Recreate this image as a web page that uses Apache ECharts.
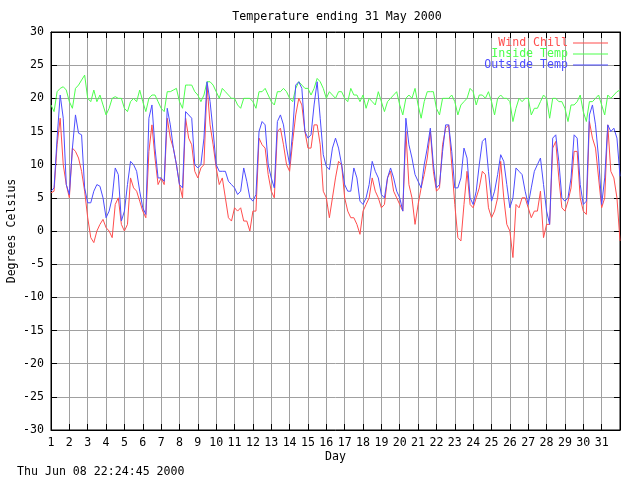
<!DOCTYPE html>
<html>
<head>
<meta charset="utf-8">
<script src="https://cdn.jsdelivr.net/npm/echarts@6/dist/echarts.min.js"></script>
<style>html,body{margin:0;padding:0;background:#fff;}#c{width:640px;height:480px;}</style>
</head>
<body>
<div id="c"></div>
<script>
var samplesPerDay = 6; // readings every 4 hours, starting 1 May 00:00
var dayLabels = ['1','2','3','4','5','6','7','8','9','10','11','12','13','14','15','16','17','18','19','20','21','22','23','24','25','26','27','28','29','30','31'];
var yTicks = [-30,-25,-20,-15,-10,-5,0,5,10,15,20,25,30];

var windChill = [
 5.75,6,13,17,10,7,5,12.5,12,11,9,6,2,-1,-1.75,0,1,1.75,0.5,0,-1,4,5,1,0,1,8,6.5,6,4.5,3,2,
 12,16,11,7,8,7,17,14,12.5,10,7,5,17,14,13,9,8,9.5,10,22,16,13,9.5,7,8,5,2,1.5,3.5,3,3.5,
 1.5,1.5,0,3,3,14,13,12.5,8.5,6,5,15,15.5,13,10,9,13.5,17.5,20,19,15,12.5,12.5,16,16,13,6,5,2,5,8,
 10.5,10,5,3,2,2,1,-0.5,3,4,5,8,6,5,3.5,4,8,9,6,5,4,3,15,7,5,1,4,6.5,8.5,11,15,
 9,6,6.5,13,15.5,16,10,4,-1,-1.5,4,9,4,3.5,5,6.5,9,8.5,3.5,2,3,5,10.5,5,1,0,-4,4,3.5,5,5,
 3.5,2,3,3,6,-1,1,1,12.5,13.5,8,3.5,3,4.5,6.5,12,12,5,3,2.5,16.5,14,12.5,8,3.5,5,16,9,8,5,-1.5
];
var insideTemp = [
 19,18,21,21.5,21.75,21.25,19.5,18.5,21.5,22,22.75,23.5,20,19.5,21.25,19.5,20.5,19,17.5,18.5,20,20.25,20,20,18.5,18,19.5,20,19.5,21.25,19.5,18,
 20,20.5,20.5,19.5,18.5,18,21,21,21.25,21.5,19.5,18.5,22,22,22,21,20.5,19.5,20.5,22.5,22.5,22,21,20,21.5,21,20.5,20,20,19,18.5,
 20,20,20,19.5,18.5,21,21,21.5,20.5,19.5,19,21,21,21.5,21,20,19.5,21.5,22.5,22,21.5,21.5,20.5,21.5,23,22.5,21.5,20,21,20.5,20,
 21,21,20,19.5,21.5,20.5,20.5,19.5,20.5,18.5,20,19.5,19,21,19.5,18,19.5,20,20.5,21,19,17.5,20,20.5,20,21.5,19,17,19.5,21,21,
 21,18.5,17.5,20,20,20,20.5,19.5,17.5,19,19.5,20,21.5,21,19,20.5,20.5,20,21,19.5,17.5,20,20.5,20,20,19.5,16.5,18.5,20,19.5,20,
 20,17.5,18.5,18.5,19.5,20.5,20,17,20,20,19.5,19.5,18.5,16.5,19,19,19.5,20.5,18,16.5,19.5,19.5,20,20.5,19,17.5,20.5,20,20.5,21,21.25
];
var outsideTemp = [
 6,6.5,14,20.5,17,7,5.5,12.5,17.5,14.75,14.5,6.5,4.25,4.25,6,7,6.75,5,2,3,5,9.5,8.5,1.5,3,7,10.5,10,9,6,3.5,2.5,
 17,19,12.5,8,8,7.5,18.5,16,12.5,10,7,6.5,18,17.5,17,10,9.5,10,14,22.5,19.5,15,10,9,9,9,7.5,7,6.5,5.5,6,
 9.5,7.5,5,4.5,5.5,15,16.5,16,10,8,6.5,16.5,17.5,16,12.5,10,15,22,22.5,21.5,15,14,14.5,19,22.5,17,11.5,9.75,9.25,12.5,14,
 12.5,10,7,6,6,9.5,8,4.5,4,5,7,10.5,9,8,5.5,5,8,9.5,8,6,5,3,17,13,11,8.5,7.5,6.5,10,12.5,15.5,
 10,6.5,7,12,16,16,12,6.5,6.5,8,12.5,11,5,4,6,10,13.5,14,9,4.5,6,8.5,11.5,10.5,7,3.5,5,9.5,9,8.5,6,
 4,6.5,9,10,11,7,3,1,14,14.5,10.5,5,4.5,5,8,14.5,14,7,4,4.5,17.5,19,16,11,4,8,16,15,15.5,14,8.25
];

function toPairs(arr){ return arr.map(function(v,i){ return [1 + i / samplesPerDay, v]; }); }

var FONT = 'DejaVu Sans Mono';
var FS = 11.6;
var RED = '#ff4d4d', GREEN = '#4dff4d', BLUE = '#4d4dff';
var chart = echarts.init(document.getElementById('c'), null, {renderer:'canvas'});

function legendFor(name, color, top){
  return {data:[{name:name, icon:'path://M0,0 L35,0 L35,1 L0,1 Z'}], right: 32, top: top, orient:'vertical', align:'right',
    itemWidth: 35, itemHeight: 10, itemGap: 0, padding: 0, symbolKeepAspect:true,
    itemStyle:{color:color, borderWidth:0},
    textStyle:{color: color, fontFamily: FONT, fontSize: FS}, selectedMode:false};
}

chart.setOption({
  backgroundColor:'#ffffff',
  animation:false,
  title:{text:'Temperature ending 31 May 2000', left: 332, top: 6, textAlign:'center',
    textStyle:{fontFamily:FONT, fontSize:FS, fontWeight:'normal', color:'#000'}},
  legend:[legendFor('Wind Chill', RED, 37), legendFor('Inside Temp', GREEN, 48), legendFor('Outside Temp', BLUE, 59)],
  graphic:[{type:'text', left: 17, top: 466, style:{text:'Thu Jun 08 22:24:45 2000', fontFamily:FONT, fontSize:FS, fill:'#000'}}],
  grid:{left:51, right:20, top:32, bottom:50, show:true, borderColor:'#000', borderWidth:1, containLabel:false, outerBoundsMode:'none'},
  xAxis:[{
    type:'value', min:1, max:32, interval:1, position:'bottom',
    name:'Day', nameLocation:'middle', nameGap:21, nameMoveOverlap:false,
    nameTextStyle:{fontFamily:FONT, fontSize:FS, color:'#000'},
    axisLine:{show:true, onZero:false, lineStyle:{color:'#000'}},
    axisTick:{show:true, inside:true, length:6, lineStyle:{color:'#000'}},
    axisLabel:{margin:7, fontFamily:FONT, fontSize:FS, color:'#000',
      formatter:function(v){ var s = String(Math.round(v)); return dayLabels.indexOf(s) >= 0 ? s : ''; }},
    splitLine:{show:true, lineStyle:{color:'#a0a0a0', width:1}}
  },{
    type:'value', min:1, max:32, interval:1, position:'top',
    axisLine:{show:true, onZero:false, lineStyle:{color:'#000'}},
    axisTick:{show:true, inside:true, length:6, lineStyle:{color:'#000'}},
    axisLabel:{show:false}, splitLine:{show:false}
  }],
  yAxis:[{
    type:'value', min:yTicks[0], max:yTicks[yTicks.length-1], interval:5, position:'left',
    name:'Degrees Celsius', nameLocation:'middle', nameGap:33, nameRotate:90, nameMoveOverlap:false,
    nameTextStyle:{fontFamily:FONT, fontSize:FS, color:'#000'},
    axisLine:{show:true, onZero:false, lineStyle:{color:'#000'}},
    axisTick:{show:true, inside:true, length:6, lineStyle:{color:'#000'}},
    axisLabel:{margin:7, fontFamily:FONT, fontSize:FS, color:'#000'},
    splitLine:{show:true, lineStyle:{color:'#a0a0a0', width:1}}
  },{
    type:'value', min:yTicks[0], max:yTicks[yTicks.length-1], interval:5, position:'right',
    axisLine:{show:true, onZero:false, lineStyle:{color:'#000'}},
    axisTick:{show:true, inside:true, length:6, lineStyle:{color:'#000'}},
    axisLabel:{show:false}, splitLine:{show:false}
  }],
  series:[
    {name:'Wind Chill', type:'line', data:toPairs(windChill), symbol:'none', showSymbol:false, lineStyle:{color:RED, width:1}, itemStyle:{color:RED}, z:3},
    {name:'Inside Temp', type:'line', data:toPairs(insideTemp), symbol:'none', showSymbol:false, lineStyle:{color:GREEN, width:1}, itemStyle:{color:GREEN}, z:4},
    {name:'Outside Temp', type:'line', data:toPairs(outsideTemp), symbol:'none', showSymbol:false, lineStyle:{color:BLUE, width:1}, itemStyle:{color:BLUE}, z:5}
  ]
});
</script>
</body>
</html>
